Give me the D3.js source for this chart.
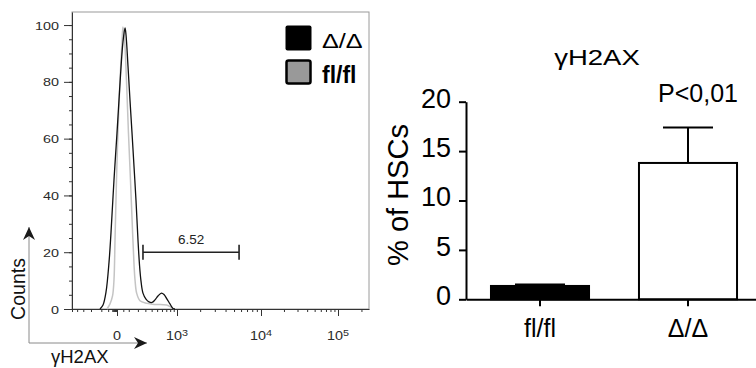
<!DOCTYPE html>
<html>
<head>
<meta charset="utf-8">
<script src="https://cdn.jsdelivr.net/npm/d3@7"></script>
<style>
  body { margin: 0; background: #fff; }
  svg { display: block; font-family: Arial, "Liberation Sans", sans-serif; }
</style>
</head>
<body>
<script>
// --- flow histogram (left) ---
// x: fluorescence intensity, y: % of max
const deltaX = [-222, -173, -129, -89, -65, -31, 0, 15, 31, 47, 65, 74, 93, 112, 133, 155, 177, 201, 220, 239, 266, 309, 356, 406, 459, 517, 590, 646, 718, 795, 878, 938];
const deltaY = [0, 1.4, 6, 16.5, 26.8, 45.4, 62, 73.6, 85.2, 94, 99, 96.5, 85.2, 73.6, 62, 50, 38.4, 24.3, 15.5, 9.9, 5.6, 3.5, 2.5, 2.3, 3.2, 4.6, 5.6, 5.1, 3.5, 1.8, 0.2, 0];
const flX = [-116, -77, -47, -31, -20, -5, 7, 23, 39, 47, 60, 78, 97, 117, 138, 155, 166, 185, 226, 320, 459, 710, 842, 908];
const flY = [0, 1.8, 4.6, 10.2, 24.3, 45.4, 62, 80.6, 94, 99.3, 95.4, 80.6, 62, 45.4, 27.8, 15.5, 10.2, 5.6, 2.9, 2.0, 1.6, 1.4, 0.5, 0];

const gateRange = [266, 5700];
const gateLevel = 20;
const gateLabel = '6.52';

const countTicks = [0, 20, 40, 60, 80, 100];
const countMinor = [0, 5, 10, 15, 20, 25, 30, 35, 40, 45, 50, 55, 60, 65, 70, 75, 80, 85, 90, 95, 100];
const fluorMajor = [0, 1e3, 1e4, 1e5];
const fluorLabels = [['0', ''], ['10', '3'], ['10', '4'], ['10', '5']];
const fluorMinor = [-1000, -800, -600, -400, -200, -100, -50, -40, -30, -20, -10,
  50, 100, 200, 300, 400, 500, 600, 700, 800, 900,
  2000, 3000, 4000, 5000, 6000, 7000, 8000, 9000,
  20000, 30000, 40000, 50000, 60000, 70000, 80000, 90000, 200000];
const legendLabels = ['Δ/Δ', 'fl/fl'];

// --- bar chart (right) ---
const groups = ['fl/fl', 'Δ/Δ'];
const means = [1.35, 13.8];
const errors = [0.15, 3.6];
const pctTicks = [0, 5, 10, 15, 20];
const pValue = 'P<0,01';

const svg = d3.select('body').append('svg')
  .attr('width', 756)
  .attr('height', 368);

svg.append('defs').append('marker')
  .attr('id', 'arrow')
  .attr('markerUnits', 'userSpaceOnUse')
  .attr('markerWidth', 14).attr('markerHeight', 12)
  .attr('refX', 13).attr('refY', 6)
  .attr('orient', 'auto')
  .append('path')
  .attr('d', 'M0,0L13,6L0,12L4,6Z')
  .attr('fill', '#1a1a1a');

// ================= left panel =================
const x = d3.scaleSymlog().constant(300)
  .domain([-1000, 0, 1e3, 1e4, 1e5, 2.5e5])
  .range([72, 117, 177, 261, 338, 369]);
const y = d3.scaleLinear().domain([0, 104.6]).range([309, 12]);

// frame
svg.append('rect')
  .attr('x', x.range()[0]).attr('y', y.range()[1])
  .attr('width', x.range()[5] - x.range()[0])
  .attr('height', y.range()[0] - y.range()[1])
  .attr('fill', 'none').attr('stroke', '#9a9a9a');

// y axis minor + major
const yMinor = svg.append('g').attr('transform', `translate(${x.range()[0]},0)`)
  .call(d3.axisLeft(y).tickValues(countMinor).tickSize(3).tickSizeOuter(0).tickFormat(''));
yMinor.selectAll('path, line').attr('stroke', '#333');

const yMajor = svg.append('g').attr('transform', `translate(${x.range()[0]},0)`)
  .call(d3.axisLeft(y).tickValues(countTicks).tickSize(8).tickSizeOuter(0));
yMajor.select('.domain').remove();
yMajor.selectAll('line').attr('stroke', '#333');
yMajor.selectAll('text')
  .attr('x', null).attr('dy', '0.36em')
  .attr('transform', 'translate(-13,0) scale(1.25,1)')
  .attr('fill', '#2a2a2a')
  .style('font-size', '11.5px');

// x axis minor + major
const xMinor = svg.append('g').attr('transform', `translate(0,${y.range()[0]})`)
  .call(d3.axisBottom(x).tickValues(fluorMinor).tickSize(3).tickSizeOuter(0).tickFormat(''));
xMinor.selectAll('path, line').attr('stroke', '#333');

const xMajor = svg.append('g').attr('transform', `translate(0,${y.range()[0]})`)
  .call(d3.axisBottom(x).tickValues(fluorMajor).tickSize(7).tickSizeOuter(0).tickFormat(''));
xMajor.select('.domain').remove();
xMajor.selectAll('line').attr('stroke', '#333');

fluorMajor.forEach((v, i) => {
  const t = svg.append('text')
    .attr('transform', `translate(${x(v)},340) scale(1.2,1)`)
    .attr('text-anchor', 'middle')
    .attr('fill', '#2a2a2a')
    .style('font-size', '12px')
    .text(fluorLabels[i][0]);
  if (fluorLabels[i][1]) {
    t.append('tspan').attr('dy', '-0.5em').style('font-size', '9px').text(fluorLabels[i][1]);
  }
});

// histograms
const hist = d3.line()
  .x(d => x(d[0]))
  .y(d => y(d[1]))
  .curve(d3.curveCatmullRom.alpha(0.5));

svg.append('path')
  .attr('d', hist(d3.zip(flX, flY)))
  .attr('fill', 'none').attr('stroke', '#c4c4c4').attr('stroke-width', 1.5);
svg.append('path')
  .attr('d', hist(d3.zip(deltaX, deltaY)))
  .attr('fill', 'none').attr('stroke', '#111').attr('stroke-width', 1.3);

// gate
const gx0 = x(gateRange[0]), gx1 = x(gateRange[1]), gy = y(gateLevel);
svg.append('path')
  .attr('d', `M${gx0},${gy}H${gx1}M${gx0},${gy - 7.5}V${gy + 7.5}M${gx1},${gy - 7.5}V${gy + 7.5}`)
  .attr('fill', 'none').attr('stroke', '#222').attr('stroke-width', 1.6);
svg.append('text')
  .attr('x', (gx0 + gx1) / 2).attr('y', gy - 8)
  .attr('text-anchor', 'middle')
  .attr('fill', '#222')
  .style('font-size', '13.5px')
  .text(gateLabel);

// legend
const legend = svg.append('g');
legend.append('rect')
  .attr('x', 285.5).attr('y', 25.5).attr('width', 26).attr('height', 25).attr('rx', 2)
  .attr('fill', '#000');
legend.append('rect')
  .attr('x', 286.5).attr('y', 60.5).attr('width', 24).attr('height', 23).attr('rx', 2)
  .attr('fill', '#999').attr('stroke', '#000').attr('stroke-width', 2.5);
legend.append('text')
  .attr('transform', 'translate(322,48) scale(1.2,1)')
  .style('font-size', '21px')
  .text(legendLabels[0]);
legend.append('text')
  .attr('transform', 'translate(322,83)')
  .style('font-size', '23px').style('font-weight', 'bold')
  .text(legendLabels[1]);

// axis arrows + titles
svg.append('path')
  .attr('d', 'M29,343V227')
  .attr('stroke', '#8a8a8a').attr('fill', 'none').attr('marker-end', 'url(#arrow)');
svg.append('path')
  .attr('d', 'M29,343H147')
  .attr('stroke', '#8a8a8a').attr('fill', 'none').attr('marker-end', 'url(#arrow)');
svg.append('text')
  .attr('transform', 'translate(25,289) rotate(-90)')
  .attr('text-anchor', 'middle')
  .attr('fill', '#111')
  .style('font-size', '19.5px')
  .text('Counts');
svg.append('text')
  .attr('x', 51).attr('y', 363)
  .attr('fill', '#111')
  .style('font-size', '18.5px')
  .text('γH2AX');

// ================= right panel =================
const yR = d3.scaleLinear().domain([0, 20]).range([299.3, 101.7]);
const xR = d3.scaleBand().domain(groups).range([466, 762])
  .paddingInner(0.324).paddingOuter(0.162);

svg.selectAll('.bar')
  .data(groups)
  .enter().append('rect')
  .attr('class', 'bar')
  .attr('x', d => xR(d) + 1)
  .attr('y', (d, i) => yR(means[i]))
  .attr('width', xR.bandwidth() - 2)
  .attr('height', (d, i) => yR(0) - yR(means[i]))
  .attr('fill', (d, i) => i === 0 ? '#000' : '#fff')
  .attr('stroke', '#000').attr('stroke-width', 2);

svg.selectAll('.err')
  .data(groups)
  .enter().append('path')
  .attr('class', 'err')
  .attr('d', (d, i) => {
    const cx = xR(d) + xR.bandwidth() / 2;
    const top = yR(means[i] + errors[i]);
    const hw = xR.bandwidth() / 4;
    return `M${cx},${yR(means[i])}V${top}M${cx - hw},${top}H${cx + hw}`;
  })
  .attr('fill', 'none').attr('stroke', '#000').attr('stroke-width', 2);

const yAxisR = svg.append('g').attr('transform', 'translate(466,0)')
  .call(d3.axisLeft(yR).tickValues(pctTicks).tickSize(7).tickPadding(8).tickSizeOuter(0));
yAxisR.selectAll('path, line').attr('stroke', '#000').attr('stroke-width', 2);
yAxisR.selectAll('text')
  .attr('dy', '0.2em').attr('fill', '#000')
  .style('font-size', '27px');

const xAxisR = svg.append('g').attr('transform', `translate(0,${yR(0)})`)
  .call(d3.axisBottom(xR).tickSize(7).tickSizeOuter(0));
xAxisR.selectAll('path, line').attr('stroke', '#000').attr('stroke-width', 2);
xAxisR.selectAll('text')
  .attr('y', 37.7).attr('dy', 0).attr('fill', '#000')
  .style('font-size', '25px');

svg.append('text')
  .attr('transform', 'translate(597,65) scale(1.25,1)')
  .attr('text-anchor', 'middle')
  .style('font-size', '22px')
  .text('γH2AX');

svg.append('text')
  .attr('x', xR(groups[1]) + xR.bandwidth() / 2 + 10).attr('y', 102)
  .attr('text-anchor', 'middle')
  .style('font-size', '25px')
  .text(pValue);

svg.append('text')
  .attr('transform', 'translate(408,195) rotate(-90)')
  .attr('text-anchor', 'middle')
  .style('font-size', '29px')
  .text('% of HSCs');
</script>
</body>
</html>
